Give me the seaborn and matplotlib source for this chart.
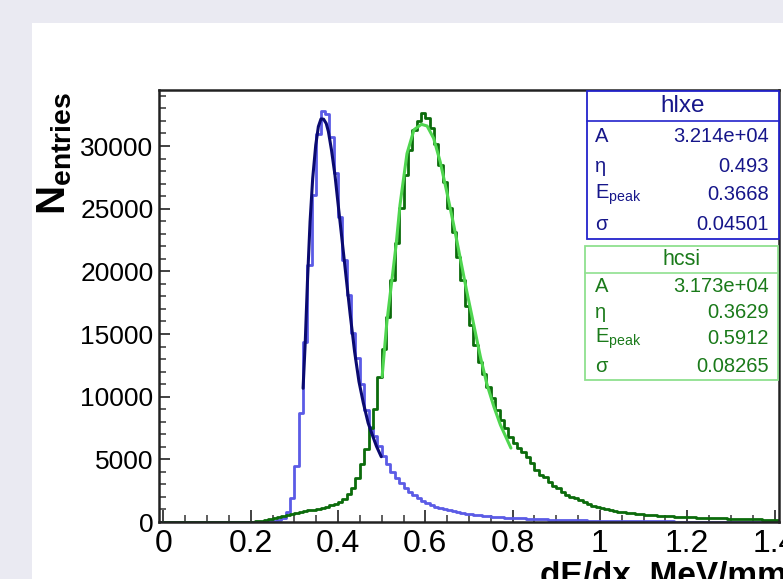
import numpy as np
import pandas as pd
import seaborn as sns
import matplotlib.pyplot as plt
from matplotlib.patches import Rectangle
from matplotlib.ticker import MultipleLocator

# bin counts, 0.01 wide bins starting at 0.00
blue_counts = [
    0, 0, 0, 0, 0, 0, 0, 0, 0, 0,
    0, 0, 0, 0, 0, 0, 0, 0, 0, 0,
    0, 0, 10, 25, 50, 100, 190, 330, 825, 1890,
    4490, 8670, 14390, 20510, 26100, 30940, 32800, 32530, 30750, 27830,
    24360, 20910, 18110, 15060, 13100, 11000, 8900, 7600, 6900, 6100,
    5230, 4600, 4020, 3480, 3090, 2740, 2420, 2150, 1890, 1680,
    1490, 1360, 1220, 1090, 1010, 930, 850, 770, 720, 665,
    610, 560, 520, 490, 460, 430, 405, 380, 355, 335,
    315, 295, 280, 265, 250, 235, 220, 205, 195, 185,
    175, 165, 155, 148, 140, 132, 125, 118, 112, 106,
    100, 95, 90, 85, 80, 76, 72, 68, 64, 60,
    57, 54, 51, 48, 45, 42, 40, 38, 36, 34,
    32, 30, 28, 26, 25, 24, 22, 21, 20, 19,
    18, 17, 16, 15, 14, 13, 12, 11, 11, 10,
    10,
]
green_counts = [
    0, 0, 0, 0, 0, 0, 0, 0, 0, 0,
    0, 0, 0, 0, 0, 0, 0, 0, 0, 10,
    25, 50, 90, 150, 220, 300, 380, 470, 570, 650,
    720, 790, 850, 920, 990, 1060, 1140, 1220, 1320, 1430,
    1600, 1850, 2220, 2750, 3550, 4600, 5850, 7470, 9000, 11550,
    13820, 16360, 19310, 22240, 25030, 27690, 29690, 31280, 32000, 32610,
    32210, 31410, 30140, 28490, 27110, 25030, 23170, 21120, 19310, 17260,
    15720, 14120, 12790, 11780, 10800, 9870, 8940, 8140, 7470, 6810,
    6280, 5880, 5560, 5210, 4680, 4150, 3750, 3560, 3220, 2870,
    2690, 2420, 2150, 2020, 1890, 1760, 1620, 1440, 1300, 1220,
    1090, 1010, 960, 880, 825, 770, 745, 690, 665, 610,
    585, 560, 530, 500, 480, 460, 445, 430, 415, 400,
    385, 370, 355, 340, 325, 310, 300, 290, 280, 270,
    260, 250, 240, 230, 220, 210, 200, 190, 180, 170,
    160,
]

# fit curves
blue_fit_x = [0.320, 0.325, 0.330, 0.336, 0.342, 0.349, 0.355, 0.361, 0.367, 0.373,
              0.378, 0.385, 0.393, 0.400, 0.408, 0.418, 0.428, 0.438, 0.448, 0.458,
              0.469, 0.478, 0.488, 0.499]
blue_fit_y = [10670, 14390, 19180, 23970, 27420, 30080, 31550, 32160, 32140, 31800,
              31150, 29690, 27690, 25430, 22900, 19710, 16520, 13590, 11200, 9500,
              7900, 7000, 6050, 5210]
green_fit_x = [0.501, 0.512, 0.523, 0.533, 0.542, 0.547, 0.558, 0.574, 0.591, 0.604,
               0.619, 0.634, 0.649, 0.665, 0.680, 0.695, 0.711, 0.726, 0.741, 0.757,
               0.772, 0.796]
green_fit_y = [11600, 15990, 19180, 22100, 25300, 26600, 29400, 31300, 31730, 31600,
               30620, 28750, 26360, 23700, 21040, 18380, 15720, 13200, 11000, 9200,
               7740, 5900]

# stat box contents
stat_labels = ["A", "\u03b7", r"E$_{\mathrm{peak}}$", "\u03c3"]
hlxe_values = ["3.214e+04", "0.493", "0.3668", "0.04501"]
hcsi_values = ["3.173e+04", "0.3629", "0.5912", "0.08265"]

sns.set_theme(style="white")
plt.rcParams["font.family"] = ["Liberation Sans", "DejaVu Sans"]
plt.rcParams["mathtext.fontset"] = "custom"
plt.rcParams["mathtext.rm"] = "Liberation Sans"
plt.rcParams["mathtext.bf"] = "Liberation Sans:bold"
plt.rcParams["mathtext.it"] = "Liberation Sans:italic"

W, H = 783, 579
fig = plt.figure(figsize=(W / 100, H / 100), dpi=100, facecolor="#eaeaf2")


def fx(px):
    return px / W


def fy(py):
    return 1 - py / H


# white canvas
fig.patches.append(Rectangle((fx(32), 0), 1, fy(23), transform=fig.transFigure,
                             facecolor="white", edgecolor="none", zorder=-5))

ax = fig.add_axes([fx(159), fy(522), fx(779) - fx(159), fy(90) - fy(522)])
ax.set_zorder(1)
ax.set_facecolor("white")

centers = np.round(np.arange(len(blue_counts)) * 0.01 + 0.005, 3)
df = pd.DataFrame({"x": centers, "blue": blue_counts, "green": green_counts})

sns.histplot(data=df, x="x", weights="blue", binwidth=0.01, binrange=(0, 1.41),
             element="step", fill=False, color="#5b5be6", linewidth=2, ax=ax)
sns.histplot(data=df, x="x", weights="green", binwidth=0.01, binrange=(0, 1.41),
             element="step", fill=False, color="#0b6b0b", linewidth=2, ax=ax)
sns.lineplot(x=blue_fit_x, y=blue_fit_y, color="#0a0a70", linewidth=2.2,
             estimator=None, sort=False, ax=ax)
sns.lineplot(x=green_fit_x, y=green_fit_y, color="#4fd64f", linewidth=2.2,
             estimator=None, sort=False, ax=ax)

ax.set_xlim(-0.01, 1.41)
ax.set_ylim(0, 34470)
ax.set_xlabel("")
ax.set_ylabel("")
ax.xaxis.set_minor_locator(MultipleLocator(0.05))
ax.yaxis.set_major_locator(MultipleLocator(5000))
ax.yaxis.set_minor_locator(MultipleLocator(1000))
ax.set_xticks([0, 0.2, 0.4, 0.6, 0.8, 1.0, 1.2, 1.4])
ax.set_xticklabels(["0", "0.2", "0.4", "0.6", "0.8", "1", "1.2", "1.4"])
ax.tick_params(axis="x", which="major", direction="in", length=9, width=1.3,
               labelsize=23, pad=5, colors="#333333", labelcolor="black")
ax.tick_params(axis="x", which="minor", direction="in", length=5, width=1.1,
               colors="#333333")
ax.tick_params(axis="y", which="major", direction="in", length=8, width=1.3,
               labelsize=19, pad=4, colors="#333333", labelcolor="black")
ax.tick_params(axis="y", which="minor", direction="in", length=5, width=1.1,
               colors="#333333")
ax.tick_params(bottom=True, left=True, top=False, right=False, which="both")
for side in ["left", "bottom", "top", "right"]:
    ax.spines[side].set_visible(True)
    ax.spines[side].set_color("#222222")
    ax.spines[side].set_linewidth(1.8)

# axis titles
fig.text(fx(55), fy(92), r"$\mathbf{N_{entries}}$", rotation=90, ha="center", va="top",
         fontsize=29, color="black")
fig.text(fx(540), fy(561), "dE/dx, MeV/mm", ha="left", va="top", fontsize=24,
         fontweight="bold", color="black")


def stat_box(x0, x1, y0, ysep, y1, title, title_size, values, row_ys, text_c, edge_c):
    fig.patches.append(Rectangle((fx(x0), fy(y1)), fx(x1) - fx(x0), fy(y0) - fy(y1),
                                 transform=fig.transFigure, facecolor="white",
                                 edgecolor=edge_c, linewidth=1.3, zorder=5))
    fig.lines.append(plt.Line2D([fx(x0), fx(x1)], [fy(ysep), fy(ysep)],
                                transform=fig.transFigure, color=edge_c,
                                linewidth=1.2, zorder=6))
    fig.text(fx((x0 + x1) / 2), fy((y0 + ysep) / 2), title, ha="center", va="center",
             fontsize=title_size, color=text_c, zorder=7)
    for lab, val, ry in zip(stat_labels, values, row_ys):
        fig.text(fx(595), fy(ry), lab, ha="left", va="center", fontsize=14.5,
                 color=text_c, zorder=7)
        fig.text(fx(769), fy(ry), val, ha="right", va="center", fontsize=14.5,
                 color=text_c, zorder=7)


stat_box(587, 779, 91, 121, 239, "hlxe", 17.5, hlxe_values, [137, 166, 195, 224],
         "#16168a", "#2323cc")
stat_box(585, 778, 246, 273, 380, "hcsi", 15.5, hcsi_values, [287, 313, 339, 366],
         "#1a7a1a", "#8fe08f")

fig.savefig("out.png", dpi=100, facecolor=fig.get_facecolor())
